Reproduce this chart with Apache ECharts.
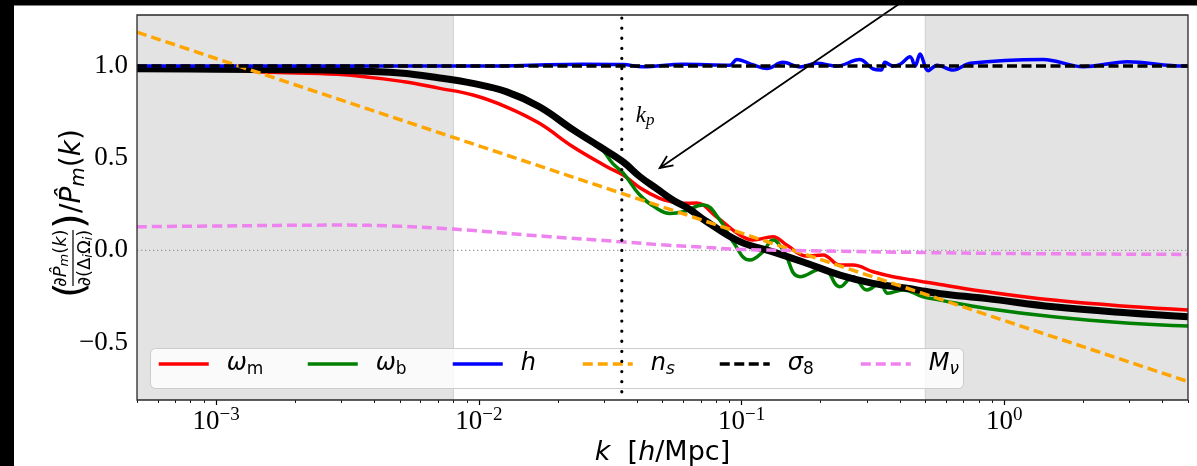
<!DOCTYPE html>
<html>
<head>
<meta charset="utf-8">
<script src="https://cdn.jsdelivr.net/npm/echarts@6/dist/echarts.min.js"></script>
<style>
  html, body { margin: 0; padding: 0; background: #fff; }
  #chart { width: 1197px; height: 466px; }
</style>
</head>
<body>
<div id="chart"></div>
<script>
// Fractional response of the matter power spectrum to each parameter, [k (h/Mpc), value]
const omegaM = [
  [0.0005, 0.995], [0.001, 0.99], [0.0015, 0.968], [0.0029, 0.955], [0.0052, 0.915],
  [0.0071, 0.879], [0.0095, 0.843], [0.0127, 0.779], [0.017, 0.689], [0.0228, 0.562],
  [0.0307, 0.454], [0.0354, 0.409], [0.041, 0.34], [0.0488, 0.282], [0.0549, 0.262],
  [0.06, 0.255], [0.0674, 0.257], [0.0803, 0.182], [0.0985, 0.083], [0.1104, 0.056],
  [0.1316, 0.074], [0.1484, 0.029], [0.1769, -0.031], [0.2041, -0.025], [0.2368, -0.08],
  [0.2655, -0.08], [0.3163, -0.116], [0.377, -0.143], [0.4494, -0.161], [0.49, -0.17],
  [0.57, -0.185], [0.86, -0.225], [1.535, -0.27], [3.0, -0.305], [5.0, -0.324]
];
const omegaB = [
  [0.0005, 0.99], [0.003, 0.98], [0.007, 0.94], [0.0127, 0.866], [0.017, 0.786],
  [0.0228, 0.662], [0.0289, 0.56], [0.0323, 0.472], [0.0354, 0.42], [0.041, 0.30],
  [0.0475, 0.228], [0.0533, 0.2], [0.06, 0.21], [0.0712, 0.246], [0.0827, 0.164],
  [0.0927, 0.047], [0.1075, -0.053], [0.1205, -0.008], [0.1316, 0.056], [0.1437, 0.002],
  [0.1668, -0.143], [0.2041, -0.098], [0.2368, -0.197], [0.2655, -0.143], [0.3001, -0.215],
  [0.3364, -0.179], [0.3607, -0.233], [0.4116, -0.215], [0.4906, -0.252], [0.5694, -0.27],
  [0.86, -0.315], [1.535, -0.36], [3.0, -0.395], [5.0, -0.41]
];
const hubble = [
  [0.0005, 1.0], [0.01, 1.0], [0.0249, 1.01], [0.0354, 1.008], [0.0421, 0.996],
  [0.0597, 1.01], [0.0902, 1.005], [0.096, 1.036], [0.11, 1.008], [0.1249, 0.987],
  [0.1437, 1.02], [0.1668, 0.995], [0.1929, 1.015], [0.23, 1.0], [0.2812, 1.035],
  [0.3163, 0.985], [0.3394, 0.978], [0.3514, 1.02], [0.377, 1.0], [0.4011, 1.01],
  [0.4378, 1.05], [0.4574, 1.0], [0.4778, 1.065], [0.5127, 0.975], [0.5548, 1.005],
  [0.6385, 0.978], [0.741, 1.015], [1.406, 1.036], [1.997, 0.996], [2.938, 1.023], [4.8, 1.0], [5.0, 1.0]
];
const nS = [
  [0.0005, 1.184], [0.001, 1.041], [0.01, 0.567], [0.1, 0.093], [1.0, -0.381], [5.0, -0.712]
];
const sigma8 = [[0.0005, 1.0], [5.0, 1.0]];
const mNu = [
  [0.0005, 0.128], [0.001, 0.132], [0.0029, 0.137], [0.005, 0.131], [0.0071, 0.12],
  [0.009, 0.11], [0.0186, 0.074], [0.0354, 0.046], [0.05, 0.03], [0.07, 0.018],
  [0.1, 0.005], [0.2, -0.003], [0.5, -0.012], [1.0, -0.017], [5.0, -0.022]
];
// Bundle of per-simulation derivative estimates (drawn as one dark band)
const simulationRuns = [
  [0.0005, 0.985], [0.001, 0.983], [0.002, 0.98], [0.003, 0.976], [0.005, 0.962],
  [0.007, 0.937], [0.0095, 0.906], [0.0127, 0.861], [0.017, 0.779], [0.0228, 0.655],
  [0.0289, 0.562], [0.0354, 0.48], [0.041, 0.40], [0.0475, 0.335], [0.0549, 0.272],
  [0.0635, 0.222], [0.0738, 0.155], [0.0985, 0.047], [0.1316, -0.008], [0.1769, -0.07],
  [0.2368, -0.134], [0.3163, -0.179], [0.4263, -0.206], [0.5, -0.222], [0.57, -0.235],
  [0.86, -0.262], [1.535, -0.306], [3.0, -0.34], [5.0, -0.36]
];
const zeroLine = [[0.0005, 0], [5.0, 0]];
const shadedBands = [[0.0005, 0.008], [0.5, 5.0]];
const kPivot = 0.035;
const kPivotLabelAt = [0.035, 0.73];
const arrowFrom = [0.44, 1.38];
const arrowTo = [0.0488, 0.447];

const xRange = [0.0005, 5.0];
const yRange = [-0.812, 1.277];
const yTicks = [-0.5, 0, 0.5, 1.0];
const xMajorTicks = [0.001, 0.01, 0.1, 1];
const xMinorTicks = [
  0.0005, 0.0006, 0.0007, 0.0008, 0.0009,
  0.002, 0.003, 0.004, 0.005, 0.006, 0.007, 0.008, 0.009,
  0.02, 0.03, 0.04, 0.05, 0.06, 0.07, 0.08, 0.09,
  0.2, 0.3, 0.4, 0.5, 0.6, 0.7, 0.8, 0.9,
  2, 3, 4, 5
];

const SERIF = '"Liberation Serif", "DejaVu Serif", serif';
const SANS = '"DejaVu Sans", sans-serif';
const GRID = { left: 137, top: 15, right: 9, bottom: 66 };
const gridW = 1197 - GRID.left - GRID.right;
const gridH = 466 - GRID.top - GRID.bottom;
const LW = 3.5;

const chart = echarts.init(document.getElementById('chart'), null, { renderer: 'canvas' });

function curve(name, data, color, dash, z, smooth, width) {
  return {
    type: 'line', name: name, data: data, xAxisIndex: 0, yAxisIndex: 0,
    symbol: 'none', smooth: smooth, z: z, silent: true,
    lineStyle: { color: color, width: width || LW, type: dash || 'solid', cap: 'butt' },
    itemStyle: { color: color }
  };
}

function pow10Label(v) {
  const e = Math.log10(v);
  const r = Math.round(e);
  if (Math.abs(e - r) > 1e-6) return '';
  return '{b|10}{s|' + (r < 0 ? '\u2212' + (-r) : String(r)) + '}';
}

const legendRich = {
  it: { fontFamily: SANS, fontStyle: 'italic', fontSize: 24, color: '#000' },
  sub: { fontFamily: SANS, fontSize: 17, color: '#000', padding: [12, 0, 0, 0] },
  subit: { fontFamily: SANS, fontStyle: 'italic', fontSize: 17, color: '#000', padding: [12, 0, 0, 0] }
};
const legendItems = [
  { name: 'omega_m', left: 157, label: '{it|\u03c9}{sub|m}' },
  { name: 'omega_b', left: 306, label: '{it|\u03c9}{sub|b}' },
  { name: 'h', left: 451, label: '{it|h}' },
  { name: 'n_s', left: 581, label: '{it|n}{subit|s}' },
  { name: 'sigma_8', left: 718, label: '{it|\u03c3}{sub|8}' },
  { name: 'M_nu', left: 859, label: '{it|M}{subit|\u03bd}' }
];

const fracRich = {
  it: { fontFamily: SANS, fontStyle: 'italic', fontSize: 18, color: '#000' },
  n: { fontFamily: SANS, fontSize: 18, color: '#000' },
  s: { fontFamily: SANS, fontSize: 13, color: '#000', padding: [8, 0, 0, 0] },
  si: { fontFamily: SANS, fontStyle: 'italic', fontSize: 13, color: '#000', padding: [8, 0, 0, 0] }
};
const mainRich = {
  it: { fontFamily: SANS, fontStyle: 'italic', fontSize: 28, color: '#000' },
  n: { fontFamily: SANS, fontSize: 28, color: '#000' },
  s: { fontFamily: SANS, fontStyle: 'italic', fontSize: 20, color: '#000', padding: [12, 0, 0, 0] }
};

const option = {
  animation: false,
  backgroundColor: '#fff',
  grid: {
    left: GRID.left, top: GRID.top, right: GRID.right, bottom: GRID.bottom,
    show: false, containLabel: false, outerBoundsMode: 'none'
  },
  xAxis: [
    {
      type: 'log', logBase: 10, min: xRange[0], max: xRange[1], position: 'bottom',
      axisLine: { show: false }, axisTick: { show: false }, splitLine: { show: false },
      minorTick: { show: false },
      axisLabel: {
        formatter: pow10Label, margin: 6, showMinLabel: false, showMaxLabel: false,
        rich: {
          b: { fontFamily: SERIF, fontSize: 27, color: '#000' },
          s: { fontFamily: SERIF, fontSize: 19, color: '#000', padding: [0, 0, 12, 0] }
        }
      },
      name: '{it|k}{n|  [}{it|h}{n|/Mpc]}',
      nameLocation: 'middle', nameGap: 34,
      nameTextStyle: {
        rich: {
          it: { fontFamily: SANS, fontStyle: 'italic', fontSize: 27, color: '#000' },
          n: { fontFamily: SANS, fontSize: 27, color: '#000' }
        }
      }
    },
    {
      type: 'value', min: Math.log10(xRange[0]), max: Math.log10(xRange[1]), position: 'bottom',
      axisLine: { show: false }, splitLine: { show: false },
      axisLabel: { show: false, customValues: xMajorTicks.map(Math.log10) },
      axisTick: { show: true, length: 5, customValues: xMajorTicks.map(Math.log10), lineStyle: { color: '#000', width: 1.2 } }
    },
    {
      type: 'value', min: Math.log10(xRange[0]), max: Math.log10(xRange[1]), position: 'bottom',
      axisLine: { show: false }, splitLine: { show: false },
      axisLabel: { show: false, customValues: xMinorTicks.map(Math.log10) },
      axisTick: { show: true, length: 3, customValues: xMinorTicks.map(Math.log10), lineStyle: { color: '#000', width: 0.9 } }
    }
  ],
  yAxis: {
    type: 'value', min: yRange[0], max: yRange[1],
    axisLine: { show: false }, splitLine: { show: false },
    axisTick: { show: true, length: 5, customValues: yTicks, lineStyle: { color: '#000', width: 1.2 } },
    axisLabel: {
      customValues: yTicks, margin: 9, fontFamily: SERIF, fontSize: 27, color: '#000',
      formatter: v => (v < 0 ? '\u2212' : '') + Math.abs(v).toFixed(1)
    }
  },
  legend: legendItems.map(d => ({
    data: [d.name], left: d.left, top: 352, padding: 0, itemWidth: 50, itemHeight: 14,
    selectedMode: false, formatter: () => d.label, z: 6,
    itemStyle: { opacity: 0, borderWidth: 0 },
    lineStyle: { width: LW },
    textStyle: { padding: [0, 0, 0, 13], rich: legendRich }
  })),
  series: [
    {
      // shaded k-ranges, spanning the full height of the plot area
      type: 'custom', name: 'shade', coordinateSystem: 'cartesian2d', xAxisIndex: 0, yAxisIndex: 0,
      z: 1, silent: true, clip: true,
      data: shadedBands,
      encode: { x: [0, 1] },
      renderItem: function (params, api) {
        const cs = params.coordSys;
        const x0 = api.coord([api.value(0), yRange[0]])[0];
        const x1 = api.coord([api.value(1), yRange[0]])[0];
        return {
          type: 'rect',
          shape: { x: x0, y: cs.y, width: x1 - x0, height: cs.height },
          style: { fill: '#e3e3e3', stroke: '#d0d0d0', lineWidth: 1 }
        };
      }
    },
    {
      type: 'line', name: 'zero', data: zeroLine, xAxisIndex: 0, yAxisIndex: 0, z: 2, silent: true,
      symbol: 'none', lineStyle: { color: '#9a9a9a', width: 1.3, type: [1.3, 2.7] }
    },
    curve('omega_m', omegaM, '#ff0000', null, 2, 0.4),
    curve('omega_b', omegaB, '#008000', null, 2, 0.45),
    curve('runs', simulationRuns, '#000000', null, 3, 0.4, 7),
    curve('h', hubble, '#0000ff', null, 4, 0.35),
    curve('n_s', nS, '#ffa500', [10, 5], 4, false),
    curve('sigma_8', sigma8, '#000000', [10, 4.5], 4, false),
    curve('M_nu', mNu, '#ee82ee', [10, 5], 4, 0.4),
    {
      type: 'line', name: 'kp', xAxisIndex: 0, yAxisIndex: 0, z: 7, silent: true,
      data: [[kPivot, yRange[1]], [kPivot, yRange[0]]],
      symbol: 'none',
      lineStyle: { color: '#000', width: 3.2, type: [0.1, 10], cap: 'round', dashOffset: -3 }
    },
    {
      type: 'custom', name: 'arrow', coordinateSystem: 'cartesian2d', xAxisIndex: 0, yAxisIndex: 0,
      z: 8, silent: true, clip: false,
      data: [[arrowFrom[0], arrowFrom[1], arrowTo[0], arrowTo[1]]],
      encode: { x: [0, 2], y: [1, 3] },
      renderItem: function (params, api) {
        const a = api.coord([api.value(0), api.value(1)]);
        const b = api.coord([api.value(2), api.value(3)]);
        const ang = Math.atan2(b[1] - a[1], b[0] - a[0]);
        const L = 14, w = 0.42;
        const p1 = [b[0] - L * Math.cos(ang - w), b[1] - L * Math.sin(ang - w)];
        const p2 = [b[0] - L * Math.cos(ang + w), b[1] - L * Math.sin(ang + w)];
        return {
          type: 'group',
          children: [
            { type: 'line', shape: { x1: a[0], y1: a[1], x2: b[0], y2: b[1] }, style: { stroke: '#000', lineWidth: 1.8 } },
            { type: 'polyline', shape: { points: [p1, b, p2] }, style: { stroke: '#000', lineWidth: 1.8, fill: null } }
          ]
        };
      }
    },
    {
      type: 'custom', name: 'kpLabel', coordinateSystem: 'cartesian2d', xAxisIndex: 0, yAxisIndex: 0,
      z: 8, silent: true, clip: false,
      data: [kPivotLabelAt],
      renderItem: function (params, api) {
        const p = api.coord([api.value(0), api.value(1)]);
        return {
          type: 'text', x: p[0] + 14, y: p[1],
          style: {
            text: '{k|k}{p|p}', fill: '#000', textAlign: 'left', textVerticalAlign: 'middle',
            rich: {
              k: { fontFamily: SERIF, fontStyle: 'italic', fontSize: 23, fill: '#000', color: '#000' },
              p: { fontFamily: SERIF, fontStyle: 'italic', fontSize: 17, fill: '#000', color: '#000', padding: [10, 0, 0, 0] }
            }
          }
        };
      }
    }
  ],
  graphic: [
    // legend frame
    {
      type: 'rect', z: 5, silent: true,
      shape: { x: 150.5, y: 348.5, width: 813, height: 40, r: 5 },
      style: { fill: 'rgba(255,255,255,0.8)', stroke: '#cccccc', lineWidth: 1 }
    },
    // plot frame
    {
      type: 'rect', z: 50, silent: true,
      shape: { x: GRID.left, y: GRID.top, width: gridW, height: gridH },
      style: { fill: null, stroke: '#2a2a2a', lineWidth: 1.3 }
    },
    // y-axis title
    {
      type: 'group', x: 73, y: 207, rotation: Math.PI / 2, z: 10, silent: true,
      children: [
        { type: 'text', x: -91, y: 0, style: { text: '(', font: '40px "DejaVu Sans"', fill: '#000', textAlign: 'left', textVerticalAlign: 'middle' } },
        { type: 'text', x: -51, y: -12, style: { text: '{it|\u2202P\u0302}{si|m}{n|(}{it|k}{n|)}', rich: fracRich, fill: '#000', textAlign: 'center', textVerticalAlign: 'middle' } },
        { type: 'line', shape: { x1: -79, y1: 0, x2: -23, y2: 0 }, style: { stroke: '#000', lineWidth: 1.2 } },
        { type: 'text', x: -51, y: 12, style: { text: '{it|\u2202}{n|(\u0394}{si|i}{n|\u03a9}{si|i}{n|)}', rich: fracRich, fill: '#000', textAlign: 'center', textVerticalAlign: 'middle' } },
        { type: 'text', x: -22, y: 0, style: { text: ')', font: '40px "DejaVu Sans"', fill: '#000', textAlign: 'left', textVerticalAlign: 'middle' } },
        { type: 'text', x: -6, y: 0, style: { text: '{n|/}{it|P\u0302}{s|m}{n|(}{it|k}{n|)}', rich: mainRich, fill: '#000', textAlign: 'left', textVerticalAlign: 'middle' } }
      ]
    },
    // outer dark border strips
    { type: 'rect', z: 100, silent: true, shape: { x: 0, y: 0, width: 1197, height: 5.5 }, style: { fill: '#000' } },
    { type: 'rect', z: 100, silent: true, shape: { x: 0, y: 0, width: 14, height: 466 }, style: { fill: '#000' } }
  ]
};

chart.setOption(option);
</script>
</body>
</html>
